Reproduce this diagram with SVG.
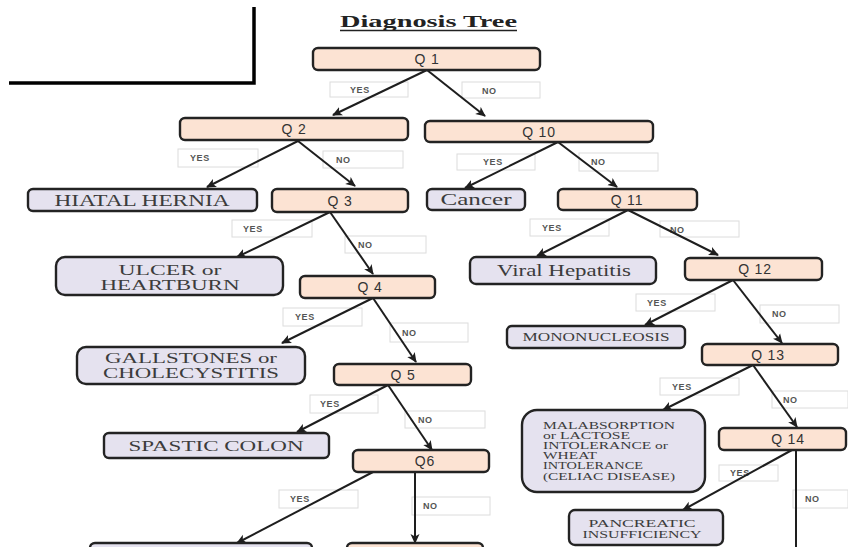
<svg xmlns="http://www.w3.org/2000/svg" width="848" height="547" viewBox="0 0 848 547">
  <style>
    .q rect { fill: #fce3d3; stroke: #232323; stroke-width: 2.4; }
    .d rect { fill: #e5e2ef; stroke: #232323; stroke-width: 2.4; }
    .qt { font-family: "Liberation Sans", Arial, sans-serif; font-size: 14px; fill: #333; text-anchor: middle; letter-spacing: 0.8px; }
    .dt { font-family: "Liberation Serif", "Times New Roman", serif; fill: #3c3c3c; text-anchor: middle; }
    .lab rect { fill: #fff; stroke: #dcdcdc; stroke-width: 1; }
    .lab text { font-family: "Liberation Sans", Arial, sans-serif; font-size: 9px; font-weight: bold; fill: #555; letter-spacing: 0.6px; }
    .edges line { stroke: #1e1e1e; stroke-width: 2; }
  </style>
  <defs>
    <marker id="arrow" markerUnits="userSpaceOnUse" markerWidth="11" markerHeight="10" refX="9" refY="5" orient="auto">
      <path d="M0,0.5 L10,5 L0,9.5 L2.5,5 z" fill="#1e1e1e"/>
    </marker>
  </defs>

  <rect width="848" height="547" fill="#fff"/>

  <!-- corner bracket -->
  <path d="M9,83 H254 V7" fill="none" stroke="#000" stroke-width="3.5"/>

  <!-- title -->
  <text x="340" y="27" font-family="Liberation Serif, serif" font-weight="bold" font-size="17" fill="#222" textLength="177" lengthAdjust="spacingAndGlyphs">Diagnosis Tree</text>
  <line x1="340" y1="30.5" x2="517" y2="30.5" stroke="#222" stroke-width="1.3"/>

  <!-- answer labels -->
  <g id="labels" class="lab">
    <rect x="330" y="82" width="78" height="15"/><text x="350" y="93">YES</text>
    <rect x="462" y="82" width="78" height="16"/><text x="482" y="94">NO</text>
    <rect x="178" y="149" width="80" height="18"/><text x="190" y="161">YES</text>
    <rect x="323" y="151" width="80" height="17"/><text x="336" y="163">NO</text>
    <rect x="457" y="154" width="78" height="16"/><text x="483" y="165">YES</text>
    <rect x="579" y="153" width="79" height="18"/><text x="591" y="165">NO</text>
    <rect x="232" y="220" width="80" height="17"/><text x="243" y="232">YES</text>
    <rect x="345" y="236" width="81" height="17"/><text x="358" y="248">NO</text>
    <rect x="530" y="219" width="79" height="17"/><text x="542" y="231">YES</text>
    <rect x="660" y="221" width="79" height="16"/><text x="670" y="233">NO</text>
    <rect x="636" y="294" width="79" height="17"/><text x="647" y="306">YES</text>
    <rect x="760" y="305" width="79" height="18"/><text x="772" y="317">NO</text>
    <rect x="283" y="308" width="79" height="18"/><text x="295" y="320">YES</text>
    <rect x="390" y="323" width="78" height="19"/><text x="402" y="336">NO</text>
    <rect x="660" y="378" width="79" height="17"/><text x="672" y="390">YES</text>
    <rect x="772" y="391" width="76" height="17"/><text x="783" y="403">NO</text>
    <rect x="310" y="395" width="68" height="18"/><text x="320" y="407">YES</text>
    <rect x="405" y="411" width="80" height="17"/><text x="418" y="423">NO</text>
    <rect x="279" y="490" width="79" height="18"/><text x="290" y="502">YES</text>
    <rect x="412" y="497" width="78" height="18"/><text x="423" y="509">NO</text>
    <rect x="719" y="465" width="59" height="16"/><text x="730" y="476">YES</text>
    <rect x="793" y="490" width="55" height="18"/><text x="805" y="502">NO</text>
  </g>

  <!-- connectors -->
  <g id="edges" class="edges">
    <line x1="427" y1="70" x2="333" y2="115" marker-end="url(#arrow)"/>
    <line x1="427" y1="70" x2="485" y2="116" marker-end="url(#arrow)"/>
    <line x1="298" y1="141" x2="207" y2="187" marker-end="url(#arrow)"/>
    <line x1="298" y1="141" x2="355" y2="186" marker-end="url(#arrow)"/>
    <line x1="558" y1="142" x2="465" y2="188" marker-end="url(#arrow)"/>
    <line x1="558" y1="142" x2="617" y2="187" marker-end="url(#arrow)"/>
    <line x1="330" y1="212" x2="237" y2="257" marker-end="url(#arrow)"/>
    <line x1="330" y1="212" x2="373" y2="274" marker-end="url(#arrow)"/>
    <line x1="628" y1="210" x2="537" y2="256" marker-end="url(#arrow)"/>
    <line x1="628" y1="210" x2="718" y2="255" marker-end="url(#arrow)"/>
    <line x1="373" y1="298" x2="282" y2="343" marker-end="url(#arrow)"/>
    <line x1="373" y1="298" x2="416" y2="362" marker-end="url(#arrow)"/>
    <line x1="733" y1="280" x2="645" y2="325" marker-end="url(#arrow)"/>
    <line x1="733" y1="280" x2="782" y2="343" marker-end="url(#arrow)"/>
    <line x1="388" y1="385" x2="297" y2="432" marker-end="url(#arrow)"/>
    <line x1="388" y1="385" x2="432" y2="450" marker-end="url(#arrow)"/>
    <line x1="753" y1="365" x2="663" y2="410" marker-end="url(#arrow)"/>
    <line x1="753" y1="365" x2="797" y2="427" marker-end="url(#arrow)"/>
    <line x1="373" y1="472" x2="237" y2="543" marker-end="url(#arrow)"/>
    <line x1="415" y1="472" x2="415" y2="543" marker-end="url(#arrow)"/>
    <line x1="792" y1="450" x2="683" y2="510" marker-end="url(#arrow)"/>
    <line x1="796" y1="450" x2="796" y2="548"/>
  </g>

  <!-- question nodes -->
  <g id="q1" class="q"><rect x="313" y="48" width="227" height="22" rx="5"/><text class="qt" x="427" y="64">Q 1</text></g>
  <g id="q2" class="q"><rect x="180" y="118" width="228" height="22" rx="5"/><text class="qt" x="294" y="134">Q 2</text></g>
  <g id="q10" class="q"><rect x="425" y="121" width="228" height="21" rx="5"/><text class="qt" x="539" y="137">Q 10</text></g>
  <g id="q3" class="q"><rect x="272" y="189" width="136" height="23" rx="5"/><text class="qt" x="340" y="206">Q 3</text></g>
  <g id="q11" class="q"><rect x="558" y="189" width="139" height="21" rx="5"/><text class="qt" x="627" y="205">Q 11</text></g>
  <g id="q4" class="q"><rect x="300" y="276" width="135" height="22" rx="5"/><text class="qt" x="370" y="292">Q 4</text></g>
  <g id="q12" class="q"><rect x="685" y="258" width="137" height="22" rx="5"/><text class="qt" x="755" y="274">Q 12</text></g>
  <g id="q5" class="q"><rect x="334" y="364" width="137" height="21" rx="5"/><text class="qt" x="403" y="380">Q 5</text></g>
  <g id="q13" class="q"><rect x="702" y="344" width="136" height="21" rx="5"/><text class="qt" x="768" y="360">Q 13</text></g>
  <g id="q6" class="q"><rect x="353" y="450" width="136" height="22" rx="5"/><text class="qt" x="425" y="466">Q6</text></g>
  <g id="q14" class="q"><rect x="719" y="428" width="127" height="22" rx="5"/><text class="qt" x="788" y="444">Q 14</text></g>
  <g id="q7" class="q"><rect x="347" y="543" width="136" height="22" rx="5"/></g>

  <!-- diagnosis nodes -->
  <g id="hiatal-hernia" class="d"><rect x="28" y="189" width="229" height="22" rx="5"/>
    <text class="dt" x="142" y="206" font-size="16" textLength="175" lengthAdjust="spacingAndGlyphs">HIATAL HERNIA</text></g>
  <g id="cancer" class="d"><rect x="427" y="189" width="98" height="21" rx="5"/>
    <text class="dt" x="476" y="205" font-size="17" textLength="71" lengthAdjust="spacingAndGlyphs">Cancer</text></g>
  <g id="ulcer" class="d"><rect x="56" y="257" width="227" height="38" rx="9"/>
    <text class="dt" x="170" y="275" font-size="15" textLength="103" lengthAdjust="spacingAndGlyphs">ULCER or</text>
    <text class="dt" x="170" y="290" font-size="15" textLength="139" lengthAdjust="spacingAndGlyphs">HEARTBURN</text></g>
  <g id="viral-hepatitis" class="d"><rect x="470" y="257" width="186" height="27" rx="6"/>
    <text class="dt" x="564" y="276" font-size="17" textLength="134" lengthAdjust="spacingAndGlyphs">Viral Hepatitis</text></g>
  <g id="mononucleosis" class="d"><rect x="507" y="326" width="178" height="22" rx="5"/>
    <text class="dt" x="596" y="341" font-size="12" textLength="147" lengthAdjust="spacingAndGlyphs">MONONUCLEOSIS</text></g>
  <g id="gallstones" class="d"><rect x="77" y="347" width="228" height="37" rx="9"/>
    <text class="dt" x="191" y="363" font-size="14" textLength="172" lengthAdjust="spacingAndGlyphs">GALLSTONES or</text>
    <text class="dt" x="191" y="378" font-size="14" textLength="176" lengthAdjust="spacingAndGlyphs">CHOLECYSTITIS</text></g>
  <g id="malabsorption" class="d"><rect x="522" y="410" width="183" height="82" rx="15"/>
    <g font-family="Liberation Serif, serif" font-size="10" fill="#3c3c3c">
      <text x="543" y="429" textLength="132" lengthAdjust="spacingAndGlyphs">MALABSORPTION</text>
      <text x="543" y="439" textLength="87" lengthAdjust="spacingAndGlyphs">or LACTOSE</text>
      <text x="543" y="449" textLength="125" lengthAdjust="spacingAndGlyphs">INTOLERANCE or</text>
      <text x="543" y="459" textLength="54" lengthAdjust="spacingAndGlyphs">WHEAT</text>
      <text x="543" y="469" textLength="100" lengthAdjust="spacingAndGlyphs">INTOLERANCE</text>
      <text x="543" y="480" textLength="132" lengthAdjust="spacingAndGlyphs">(CELIAC DISEASE)</text>
    </g></g>
  <g id="spastic-colon" class="d"><rect x="104" y="433" width="225" height="25" rx="5"/>
    <text class="dt" x="216" y="451" font-size="15" textLength="175" lengthAdjust="spacingAndGlyphs">SPASTIC COLON</text></g>
  <g id="pancreatic" class="d"><rect x="569" y="510" width="154" height="35" rx="6"/>
    <text class="dt" x="642" y="527" font-size="10" textLength="107" lengthAdjust="spacingAndGlyphs">PANCREATIC</text>
    <text class="dt" x="642" y="538" font-size="10" textLength="119" lengthAdjust="spacingAndGlyphs">INSUFFICIENCY</text></g>
  <g id="q6-yes" class="d"><rect x="90" y="543" width="222" height="22" rx="5"/></g>
</svg>
